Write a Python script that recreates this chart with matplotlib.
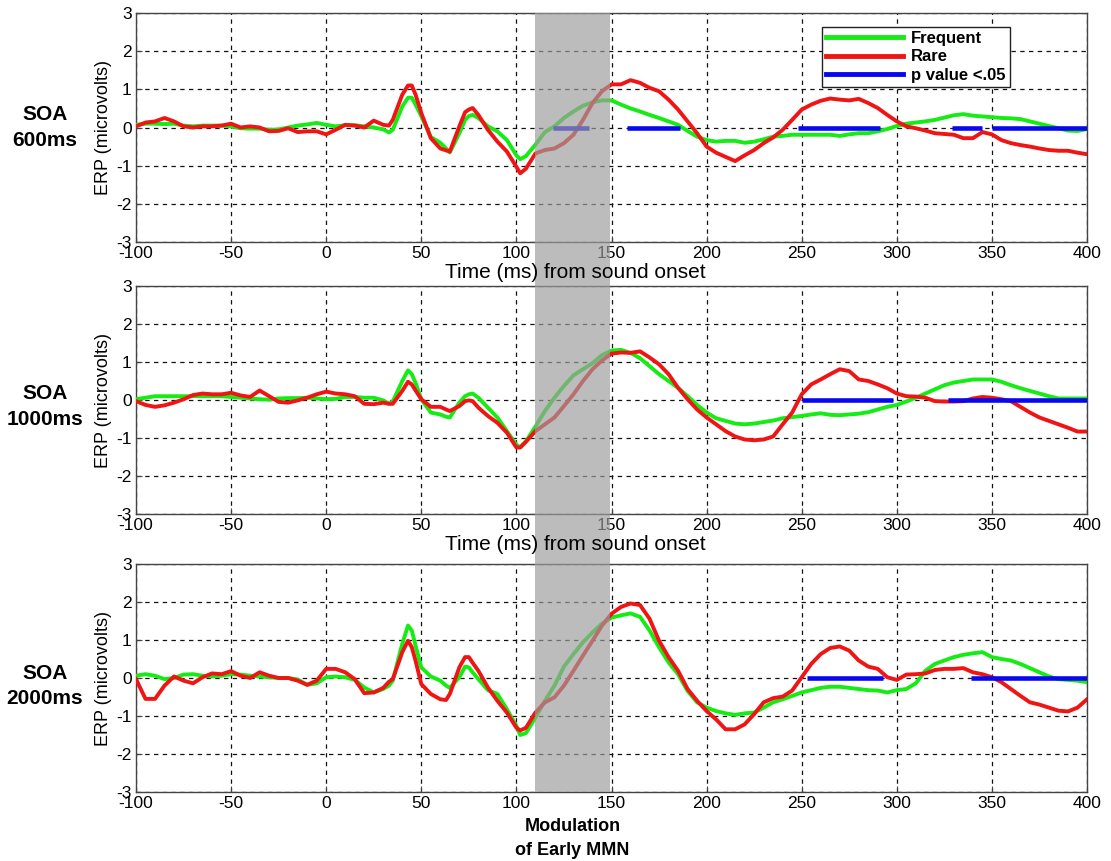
import matplotlib
matplotlib.use("Agg")
import matplotlib.pyplot as plt
from matplotlib.lines import Line2D
import matplotlib.transforms as mtransforms

plt.rcParams['font.family'] = ['Liberation Sans', 'DejaVu Sans']
plt.rcParams['axes.unicode_minus'] = False

# time axis (ms from sound onset), shared by all curves
time_ms = (list(range(-100, 31, 5))
           + [33, 35, 40, 43, 45, 47, 50, 55, 60, 63, 65, 70, 73, 75, 77, 80, 85, 90, 95, 100, 102, 105, 110]
           + list(range(115, 401, 5)))

# SOA 600 ms
freq_600 = ([0.07, 0.1, 0.1, 0.09, 0.1, 0.05, 0.03, 0.05, 0.05, 0.05, 0.03, -0.02, -0.03, -0.03,
             -0.06, -0.05, 0.0, 0.05, 0.08, 0.12, 0.07, 0.03, 0.06, 0.06, 0.03, 0.0, -0.05]
            + [-0.13, -0.06, 0.55, 0.78, 0.78, 0.6, 0.3, -0.25, -0.4, -0.55, -0.65, -0.15, 0.2, 0.3,
               0.33, 0.25, 0.03, -0.1, -0.33, -0.73, -0.83, -0.75, -0.45]
            + [-0.12, 0.03, 0.25, 0.42, 0.57, 0.66, 0.71, 0.71,
               0.6, 0.5, 0.42, 0.33, 0.25, 0.16, 0.07, -0.09, -0.24, -0.33,
               -0.37, -0.35, -0.35, -0.4, -0.37, -0.31, -0.24, -0.22, -0.19, -0.19,
               -0.19, -0.19, -0.19, -0.22, -0.18, -0.15, -0.15, -0.1, -0.04, 0.04,
               0.1, 0.13, 0.16, 0.2, 0.26, 0.32, 0.35, 0.31, 0.29, 0.27,
               0.25, 0.24, 0.22, 0.16, 0.1, 0.04, -0.02, -0.08, -0.09, -0.04])
rare_600 = ([0.03, 0.13, 0.16, 0.25, 0.16, 0.03, 0.0, 0.03, 0.03, 0.05, 0.1, 0.0, 0.03, 0.0,
             -0.1, -0.09, -0.02, -0.12, -0.1, -0.1, -0.18, -0.06, 0.07, 0.05, 0.0, 0.18, 0.07]
            + [0.05, 0.2, 0.86, 1.1, 1.1, 0.86, 0.38, -0.28, -0.55, -0.6, -0.63, 0.03, 0.4, 0.47,
               0.51, 0.33, -0.06, -0.37, -0.63, -1.03, -1.2, -1.08, -0.68]
            + [-0.59, -0.55, -0.41, -0.19, 0.2, 0.64, 0.95, 1.13,
               1.13, 1.24, 1.17, 1.04, 0.95, 0.73, 0.47, 0.16, -0.15, -0.5,
               -0.66, -0.77, -0.88, -0.73, -0.59, -0.41, -0.26, -0.06, 0.2, 0.47,
               0.6, 0.7, 0.76, 0.73, 0.71, 0.75, 0.64, 0.51, 0.33, 0.16,
               0.03, -0.02, -0.08, -0.15, -0.17, -0.19, -0.28, -0.28, -0.12, -0.18,
               -0.33, -0.41, -0.46, -0.5, -0.55, -0.59, -0.61, -0.61, -0.66, -0.7])
sig_start_600 = [119, 158, 248, 329, 350]
sig_end_600 = [138, 186, 291, 345, 400]

# SOA 1000 ms
freq_1000 = ([0.02, 0.06, 0.1, 0.1, 0.1, 0.1, 0.1, 0.1, 0.1, 0.1, 0.08, 0.06, 0.04, 0.02,
              0.01, 0.04, 0.05, 0.05, 0.06, 0.04, 0.02, 0.03, 0.08, 0.08, 0.06, 0.06, -0.01]
             + [-0.1, -0.04, 0.5, 0.78, 0.68, 0.45, 0.02, -0.33, -0.38, -0.44, -0.46, -0.07, 0.1, 0.15,
                0.17, 0.06, -0.2, -0.46, -0.82, -1.18, -1.24, -1.09, -0.7]
             + [-0.29, 0.06, 0.37, 0.65, 0.81, 0.97, 1.18, 1.3,
                1.32, 1.24, 1.1, 0.89, 0.68, 0.5, 0.32, 0.1, -0.13, -0.33,
                -0.48, -0.55, -0.62, -0.64, -0.62, -0.58, -0.54, -0.48, -0.45, -0.42,
                -0.38, -0.35, -0.39, -0.4, -0.38, -0.36, -0.32, -0.25, -0.18, -0.13,
                -0.04, 0.06, 0.17, 0.28, 0.39, 0.46, 0.5, 0.54, 0.54, 0.54,
                0.48, 0.39, 0.31, 0.24, 0.17, 0.1, 0.04, 0.04, 0.04, 0.04])
rare_1000 = ([-0.03, -0.13, -0.18, -0.14, -0.07, 0.02, 0.13, 0.17, 0.15, 0.15, 0.19, 0.12, 0.08, 0.25,
              0.1, -0.05, -0.07, -0.01, 0.06, 0.15, 0.22, 0.17, 0.15, 0.1, -0.1, -0.11, -0.07]
             + [-0.1, -0.1, 0.24, 0.48, 0.41, 0.25, 0.02, -0.18, -0.18, -0.25, -0.29, -0.16, -0.03, -0.01,
                -0.03, -0.2, -0.42, -0.6, -0.86, -1.25, -1.25, -1.1, -0.82]
             + [-0.64, -0.46, -0.16, 0.15, 0.5, 0.81, 1.04, 1.22,
                1.25, 1.24, 1.28, 1.12, 0.94, 0.68, 0.32, 0.02, -0.25, -0.46,
                -0.64, -0.82, -0.96, -1.04, -1.06, -1.04, -0.96, -0.64, -0.33, 0.15,
                0.41, 0.54, 0.68, 0.81, 0.76, 0.54, 0.5, 0.41, 0.31, 0.17,
                0.1, 0.09, 0.06, -0.03, -0.04, -0.04, -0.03, 0.04, 0.08, 0.06,
                0.02, -0.03, -0.18, -0.33, -0.46, -0.55, -0.64, -0.73, -0.83, -0.83])
sig_start_1000 = [250, 327]
sig_end_1000 = [298, 400]

# SOA 2000 ms
freq_2000 = ([0.06, 0.1, 0.06, -0.03, 0.0, 0.09, 0.1, 0.06, 0.04, 0.06, 0.1, 0.09, 0.06, 0.04,
              0.02, 0.0, 0.0, -0.04, -0.18, -0.14, 0.02, 0.04, 0.02, -0.05, -0.25, -0.38, -0.29]
             + [-0.2, -0.07, 0.9, 1.38, 1.25, 0.85, 0.28, 0.04, -0.07, -0.2, -0.26, 0.02, 0.3, 0.28,
                0.15, -0.03, -0.32, -0.42, -0.82, -1.26, -1.5, -1.45, -1.04]
             + [-0.6, -0.2, 0.3, 0.63, 0.94, 1.2, 1.43, 1.59,
                1.65, 1.7, 1.61, 1.25, 0.81, 0.41, 0.1, -0.34, -0.64, -0.78,
                -0.87, -0.93, -0.97, -0.93, -0.91, -0.78, -0.64, -0.56, -0.47, -0.38,
                -0.32, -0.26, -0.23, -0.23, -0.26, -0.29, -0.32, -0.33, -0.38, -0.32,
                -0.29, -0.14, 0.19, 0.37, 0.46, 0.55, 0.61, 0.65, 0.68, 0.55,
                0.5, 0.46, 0.37, 0.26, 0.15, 0.04, -0.03, -0.05, -0.07, -0.11])
rare_2000 = ([-0.03, -0.55, -0.55, -0.2, 0.04, -0.07, -0.14, 0.02, 0.12, 0.1, 0.18, 0.06, 0.0, 0.15,
              0.06, 0.0, 0.0, -0.07, -0.18, -0.07, 0.24, 0.24, 0.15, -0.03, -0.4, -0.38, -0.26]
             + [-0.1, -0.03, 0.68, 0.98, 0.81, 0.45, -0.16, -0.42, -0.56, -0.58, -0.42, 0.28, 0.55, 0.55,
                0.4, 0.19, -0.25, -0.6, -0.91, -1.31, -1.38, -1.31, -0.91]
             + [-0.64, -0.51, -0.2, 0.19, 0.59, 0.98, 1.38, 1.69,
                1.87, 1.96, 1.92, 1.56, 0.98, 0.55, 0.19, -0.29, -0.6, -0.87,
                -1.09, -1.35, -1.35, -1.22, -0.95, -0.64, -0.53, -0.49, -0.33, 0.02,
                0.37, 0.63, 0.79, 0.83, 0.72, 0.46, 0.3, 0.24, 0.02, -0.05,
                0.09, 0.1, 0.12, 0.21, 0.24, 0.24, 0.26, 0.15, 0.1, 0.02,
                -0.11, -0.29, -0.47, -0.64, -0.7, -0.78, -0.86, -0.88, -0.78, -0.56])
sig_start_2000 = [253, 339]
sig_end_2000 = [293, 400]

soa_labels = ['SOA\n600ms', 'SOA\n1000ms', 'SOA\n2000ms']
band_start, band_end = 110, 149

GREEN = '#14ec14'
RED = '#f01414'
BLUE = '#0808f0'

panels = [
    (freq_600, rare_600, sig_start_600, sig_end_600),
    (freq_1000, rare_1000, sig_start_1000, sig_end_1000),
    (freq_2000, rare_2000, sig_start_2000, sig_end_2000),
]

W, H = 1111, 861
fig = plt.figure(figsize=(W / 100, H / 100), dpi=100)
left, width = 136 / W, 951 / W
tops = [13, 286, 564]
bottoms = [242, 514, 792]
soa_y = [0.5, 0.47, 0.465]

axes = []
for i, (freq, rare, s0, s1) in enumerate(panels):
    ax = fig.add_axes([left, 1 - bottoms[i] / H, width, (bottoms[i] - tops[i]) / H])
    ax.plot(time_ms, freq, color=GREEN, lw=2.8, zorder=3)
    ax.plot(time_ms, rare, color=RED, lw=2.8, zorder=3)
    ax.hlines([0] * len(s0), s0, s1, color=BLUE, lw=3.3, zorder=4)
    ax.set_xlim(-100, 400)
    ax.set_ylim(-3, 3)
    ax.set_xticks(range(-100, 401, 50))
    ax.set_yticks(range(-3, 4))
    ax.grid(True, color='#111111', ls=(0, (3.5, 3.5)), lw=0.9)
    ax.tick_params(direction='in', length=4, labelsize=12.5, pad=3, color='#444444')
    for sp in ax.spines.values():
        sp.set_color('#444444')
        sp.set_linewidth(1.0)
    ax.set_ylabel('ERP (microvolts)', fontsize=13)
    ax.yaxis.set_label_coords(-0.034, 0.5)
    ax.yaxis.label.set_va('center')
    ax.text(-0.096, soa_y[i], soa_labels[i], transform=ax.transAxes, ha='center', va='center',
            fontsize=15, fontweight='bold', linespacing=1.45)
    axes.append(ax)

# legend in the top panel
handles = [Line2D([], [], color=GREEN, lw=3.5), Line2D([], [], color=RED, lw=3.5),
           Line2D([], [], color=BLUE, lw=3.5)]
leg = axes[0].legend(handles, ['Frequent', 'Rare', 'p value <.05'], loc='upper left',
                     bbox_to_anchor=(0.7213, 0.939), borderaxespad=0, fancybox=False,
                     framealpha=1, edgecolor='#222222', handlelength=4.6, handletextpad=0.5,
                     labelspacing=0.2, borderpad=0.25, prop={'size': 12, 'weight': 'bold'})
leg.get_frame().set_linewidth(1.0)
leg.set_zorder(5)

# shaded band spanning all three panels
band_ax = fig.add_axes([left, 1 - bottoms[2] / H, width, (bottoms[2] - tops[0]) / H], zorder=10)
band_ax.set_xlim(-100, 400)
band_ax.set_ylim(0, 1)
band_ax.axis('off')
band_ax.patch.set_alpha(0)
band_ax.axvspan(band_start, band_end, color='#9c9c9c', alpha=0.68, lw=0)

# x labels drawn above the band
for i in range(2):
    fig.text(575 / W, 1 - (bottoms[i] + 30) / H, 'Time (ms) from sound onset', fontsize=15,
             ha='center', va='center', zorder=20)

trans = mtransforms.blended_transform_factory(axes[2].transData, axes[2].transAxes)
axes[2].text((band_start + band_end) / 2, -0.205, 'Modulation\nof Early MMN', transform=trans,
             ha='center', va='center', fontsize=13, fontweight='bold', linespacing=1.5)

fig.savefig('out.png', dpi=100)
